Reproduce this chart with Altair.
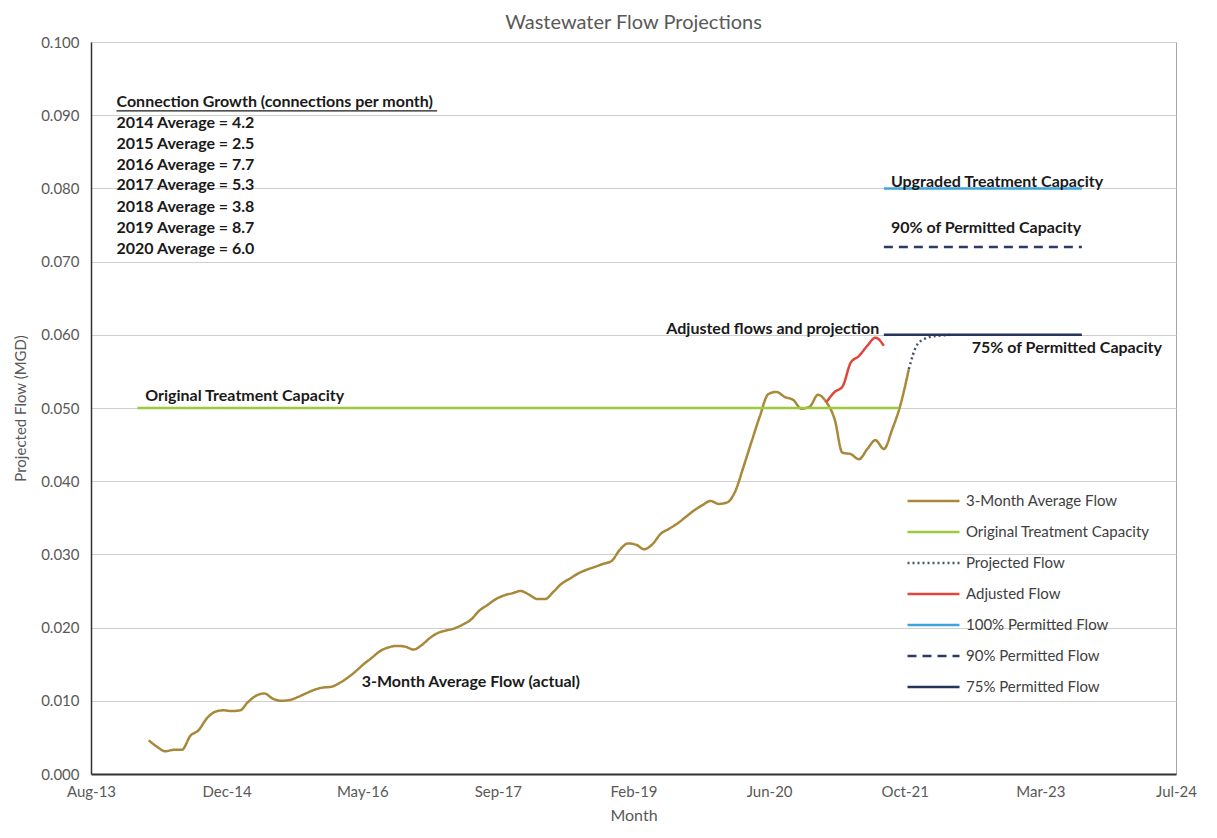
import altair as alt
import pandas as pd

FONT = "Lato"

# ---- series data ----
actual_start = "2014-03-01"
actual_values = [
    0.0046, 0.0037, 0.0031, 0.0033, 0.0033, 0.0052, 0.0060, 0.0076, 0.0085, 0.0087,
    0.0086, 0.0087, 0.0098, 0.0107, 0.0110, 0.0103, 0.0100, 0.0101, 0.0105, 0.0110,
    0.0115, 0.0118, 0.0119, 0.0124, 0.0131, 0.0140, 0.0150, 0.0159, 0.0168, 0.0173,
    0.0175, 0.0174, 0.0170, 0.0176, 0.0186, 0.0193, 0.0196, 0.0199, 0.0204, 0.0211,
    0.0223, 0.0231, 0.0239, 0.0244, 0.0247, 0.0250, 0.0245, 0.0239, 0.0239, 0.0249,
    0.0260, 0.0267, 0.0274, 0.0279, 0.0283, 0.0287, 0.0291, 0.0306, 0.0315, 0.0313,
    0.0307, 0.0314, 0.0328, 0.0335, 0.0342, 0.0351, 0.0360, 0.0367, 0.0373, 0.0369,
    0.0371, 0.0387, 0.0419, 0.0455, 0.0489, 0.0519, 0.0522, 0.0515, 0.0511, 0.0499,
    0.0502, 0.0518, 0.0508, 0.0484, 0.0439, 0.0437, 0.0430, 0.0444, 0.0456, 0.0444,
    0.0471, 0.0504, 0.0553,
]
adjusted_start = "2021-01-01"
adjusted_values = [0.0508, 0.0522, 0.0529, 0.0562, 0.0571, 0.0585, 0.0596, 0.0585]
projected_start = "2021-11-01"
projected_values = [0.0553, 0.0586, 0.0595, 0.0598, 0.0599, 0.0600]

original_capacity = 0.050
original_dates = ["2014-02-01", "2021-10-10"]
permitted_100 = 0.080
permitted_90 = 0.072
permitted_75 = 0.060
permitted_dates = ["2021-08-15", "2023-08-15"]

series_names = [
    "3-Month Average Flow",
    "Original Treatment Capacity",
    "Projected Flow",
    "Adjusted Flow",
    "100% Permitted Flow",
    "90% Permitted Flow",
    "75% Permitted Flow",
]
series_colors = ["#A8893A", "#9BCB3B", "#4A5570", "#E0473C", "#3DA5DC", "#2B3A67", "#27335A"]
series_dashes = [[1, 0], [1, 0], [2, 3], [1, 0], [1, 0], [9, 6], [1, 0]]

y_ticks = [0.000, 0.010, 0.020, 0.030, 0.040, 0.050, 0.060, 0.070, 0.080, 0.090, 0.100]
x_axis_start = "2013-08-14"
x_axis_step_days = 500
x_axis_steps = 8

growth_header = "Connection Growth (connections per month)"
growth_lines = [
    "2014 Average = 4.2",
    "2015 Average = 2.5",
    "2016 Average = 7.7",
    "2017 Average = 5.3",
    "2018 Average = 3.8",
    "2019 Average = 8.7",
    "2020 Average = 6.0",
]

# ---- build tables ----
def monthly(start, values):
    dates = pd.date_range(start=start, periods=len(values), freq="MS") + pd.Timedelta(days=14)
    return [d.strftime("%Y-%m-%d") for d in dates]

rows = []
for d, v in zip(monthly(actual_start, actual_values), actual_values):
    rows.append({"date": d, "value": v, "series": series_names[0]})
for d in original_dates:
    rows.append({"date": d, "value": original_capacity, "series": series_names[1]})
for d, v in zip(monthly(projected_start, projected_values), projected_values):
    rows.append({"date": d, "value": v, "series": series_names[2]})
for d, v in zip(monthly(adjusted_start, adjusted_values), adjusted_values):
    rows.append({"date": d, "value": v, "series": series_names[3]})
for d in permitted_dates:
    rows.append({"date": d, "value": permitted_100, "series": series_names[4]})
    rows.append({"date": d, "value": permitted_90, "series": series_names[5]})
    rows.append({"date": d, "value": permitted_75, "series": series_names[6]})
lines_df = pd.DataFrame(rows)

# annotation table (label, anchor date, anchor value)
growth_values = [0.0890, 0.0861, 0.0832, 0.0804, 0.0775, 0.0746, 0.0717]
ann_rows = [{"label": growth_header, "date": "2013-11-16", "value": 0.0918}]
for t, v in zip(growth_lines, growth_values):
    ann_rows.append({"label": t, "date": "2013-11-16", "value": v})
ann_rows += [
    {"label": "Original Treatment Capacity", "date": "2014-03-02", "value": 0.0516},
    {"label": "3-Month Average Flow (actual)", "date": "2016-05-08", "value": 0.0126},
    {"label": "Adjusted flows and projection", "date": "2019-06-05", "value": 0.0608},
    {"label": "75% of Permitted Capacity", "date": "2022-07-05", "value": 0.0582},
    {"label": "Upgraded Treatment Capacity", "date": "2021-09-10", "value": 0.0809},
    {"label": "90% of Permitted Capacity", "date": "2021-09-10", "value": 0.0746},
]
ann_df = pd.DataFrame(ann_rows)
underline_df = pd.DataFrame([{"date": "2013-11-16", "date2": "2017-02-10", "value": 0.0906}])

start = pd.Timestamp(x_axis_start)
tick_dates = [start + pd.Timedelta(days=x_axis_step_days * k) for k in range(x_axis_steps + 1)]
tick_dt = [alt.DateTime(year=d.year, month=d.month, date=d.day, utc=True) for d in tick_dates]

x_scale = alt.Scale(type="utc", domain=[tick_dt[0], tick_dt[-1]], nice=False)
y_scale = alt.Scale(domain=[0, 0.1], nice=False, zero=True)

x_enc = alt.X(
    "date:T",
    scale=x_scale,
    axis=alt.Axis(
        values=tick_dt, labelExpr="utcFormat(datum.value, '%b-%y')", title="Month",
        labelFlush=False, labelOverlap=False, grid=False, ticks=False,
        labelPadding=10, titlePadding=8, domainColor="#333333", domainWidth=2,
    ),
)
y_enc = alt.Y(
    "value:Q",
    scale=y_scale,
    axis=alt.Axis(
        values=y_ticks, format=".3f", title="Projected Flow (MGD)",
        grid=True, gridColor="#CFCFCF", ticks=False, labelPadding=12,
        titlePadding=12, domainColor="#333333", domainWidth=1.5,
    ),
)

legend_spec = dict(
    title=None, orient="none", legendX=815, legendY=451,
    symbolType="stroke", symbolSize=2704, symbolStrokeWidth=2.5,
    clipHeight=16, rowPadding=15, labelOffset=5, padding=0, labelLimit=400,
    labelFont=FONT, labelFontSize=15, labelColor="#404040",
)

lines = alt.Chart(lines_df).mark_line(interpolate="monotone", strokeWidth=2.5).encode(
    x=x_enc,
    y=y_enc,
    color=alt.Color(
        "series:N",
        scale=alt.Scale(domain=series_names, range=series_colors),
        legend=alt.Legend(**legend_spec),
    ),
    strokeDash=alt.StrokeDash(
        "series:N",
        scale=alt.Scale(domain=series_names, range=series_dashes),
        legend=alt.Legend(**legend_spec),
    ),
    detail="series:N",
)

texts = alt.Chart(ann_df).mark_text(
    align="left", baseline="middle", font=FONT, fontWeight="bold",
    fontSize=16, color="#1A1A1A",
).encode(x="date:T", y="value:Q", text="label:N")

underline = alt.Chart(underline_df).mark_rule(color="#1A1A1A", strokeWidth=1.2).encode(
    x="date:T", x2="date2:T", y="value:Q"
)

chart = alt.layer(lines, texts, underline).properties(
    width=1085,
    height=732,
    title=alt.TitleParams(
        "Wastewater Flow Projections", fontSize=20, font=FONT, fontWeight="normal",
        color="#595959", anchor="middle", offset=2,
    ),
).configure_view(
    stroke="#A6A6A6", strokeWidth=1
).configure_axis(
    labelFont=FONT, titleFont=FONT, labelFontSize=15, titleFontSize=15,
    labelColor="#595959", titleColor="#595959", titleFontWeight="normal",
).configure_axisX(titleFontSize=16)

chart.save("out.html", embed_options={"renderer": "svg", "actions": False})
